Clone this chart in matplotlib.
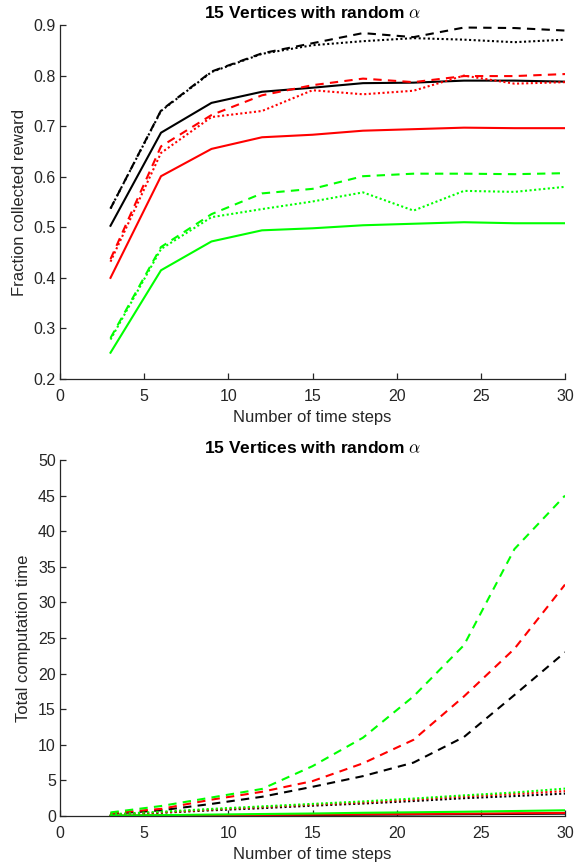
import matplotlib
matplotlib.use("Agg")
import matplotlib.pyplot as plt

plt.rcParams['font.family'] = ['Liberation Sans', 'DejaVu Sans']
plt.rcParams['mathtext.fontset'] = 'cm'

steps = [3, 6, 9, 12, 15, 18, 21, 24, 27, 30]

# Top: fraction collected reward
rew_black_solid = [0.503, 0.687, 0.746, 0.768, 0.776, 0.785, 0.786, 0.790, 0.790, 0.788]
rew_black_dash = [0.537, 0.731, 0.808, 0.844, 0.864, 0.884, 0.876, 0.895, 0.894, 0.889]
rew_black_dot = [0.537, 0.730, 0.807, 0.843, 0.860, 0.868, 0.874, 0.871, 0.866, 0.871]
rew_red_solid = [0.400, 0.601, 0.655, 0.678, 0.683, 0.691, 0.694, 0.697, 0.696, 0.696]
rew_red_dash = [0.437, 0.660, 0.722, 0.761, 0.781, 0.794, 0.787, 0.799, 0.799, 0.803]
rew_red_dot = [0.432, 0.647, 0.718, 0.730, 0.771, 0.763, 0.770, 0.800, 0.784, 0.787]
rew_green_solid = [0.252, 0.415, 0.472, 0.494, 0.498, 0.504, 0.507, 0.510, 0.508, 0.508]
rew_green_dash = [0.281, 0.461, 0.526, 0.567, 0.576, 0.601, 0.606, 0.606, 0.605, 0.607]
rew_green_dot = [0.278, 0.457, 0.520, 0.536, 0.551, 0.569, 0.533, 0.572, 0.570, 0.580]

# Bottom: total computation time
t_black_solid = [0.02, 0.05, 0.08, 0.11, 0.14, 0.18, 0.21, 0.25, 0.29, 0.33]
t_black_dash = [0.3, 0.8, 1.7, 2.7, 4.1, 5.6, 7.5, 11.1, 17.0, 23.0]
t_black_dot = [0.15, 0.45, 0.8, 1.1, 1.45, 1.75, 2.1, 2.5, 2.8, 3.15]
t_red_solid = [0.03, 0.07, 0.11, 0.15, 0.19, 0.24, 0.28, 0.33, 0.38, 0.43]
t_red_dash = [0.4, 1.0, 2.3, 3.4, 4.9, 7.4, 10.7, 16.8, 23.5, 32.5]
t_red_dot = [0.2, 0.5, 0.9, 1.25, 1.6, 1.9, 2.3, 2.75, 3.1, 3.5]
t_green_solid = [0.05, 0.12, 0.2, 0.28, 0.35, 0.45, 0.52, 0.6, 0.7, 0.8]
t_green_dash = [0.5, 1.4, 2.6, 3.8, 7.0, 11.0, 16.8, 24.0, 37.5, 45.0]
t_green_dot = [0.25, 0.6, 1.0, 1.35, 1.7, 2.05, 2.45, 2.9, 3.3, 3.85]

title = r'15 Vertices with random $\alpha$'

BLACK = '#000000'
RED = '#ff0000'
GREEN = '#00ff00'
SOLID = '-'
DASH = (0, (4.0, 3.0))
DOT = (0, (1.0, 1.2))
LW = 1.5

fig = plt.figure(figsize=(5.76, 8.65), dpi=100)
ax1 = fig.add_axes([60/576, 1-379/865, 505/576, 354/865])
ax2 = fig.add_axes([60/576, 1-816/865, 505/576, 356/865])


def style(ax):
    for s in ['top', 'right']:
        ax.spines[s].set_visible(False)
    for s in ['left', 'bottom']:
        ax.spines[s].set_color('#262626')
        ax.spines[s].set_linewidth(0.9)
    ax.tick_params(direction='in', length=4, width=0.9, colors='#262626',
                   labelsize=11.5, labelcolor='#262626', pad=3)
    ax.tick_params(axis='x', pad=7)
    ax.set_xlim(0, 30)
    ax.set_xticks([0, 5, 10, 15, 20, 25, 30])
    ax.set_xlabel('Number of time steps', fontsize=12, color='#262626', labelpad=4.5)
    ax.set_title(title, fontsize=12.5, fontweight='bold', pad=5)


series_top = [
    (rew_black_solid, BLACK, SOLID), (rew_black_dash, BLACK, DASH), (rew_black_dot, BLACK, DOT),
    (rew_red_solid, RED, SOLID), (rew_red_dash, RED, DASH), (rew_red_dot, RED, DOT),
    (rew_green_solid, GREEN, SOLID), (rew_green_dash, GREEN, DASH), (rew_green_dot, GREEN, DOT),
]
series_bot = [
    (t_black_solid, BLACK, SOLID), (t_black_dash, BLACK, DASH), (t_black_dot, BLACK, DOT),
    (t_red_solid, RED, SOLID), (t_red_dash, RED, DASH), (t_red_dot, RED, DOT),
    (t_green_solid, GREEN, SOLID), (t_green_dash, GREEN, DASH), (t_green_dot, GREEN, DOT),
]

for vals, c, ls in series_top:
    ax1.plot(steps, vals, color=c, linestyle=ls, linewidth=LW)
for vals, c, ls in series_bot:
    ax2.plot(steps, vals, color=c, linestyle=ls, linewidth=LW)

style(ax1)
ax1.set_ylim(0.2, 0.9)
ax1.set_yticks([0.2, 0.3, 0.4, 0.5, 0.6, 0.7, 0.8, 0.9])
ax1.set_ylabel('Fraction collected reward', fontsize=12, color='#262626', labelpad=5)

style(ax2)
ax2.set_ylim(0, 50)
ax2.set_yticks(range(0, 51, 5))
ax2.set_ylabel('Total computation time', fontsize=12, color='#262626', labelpad=5)

fig.savefig('out.png', dpi=100)
